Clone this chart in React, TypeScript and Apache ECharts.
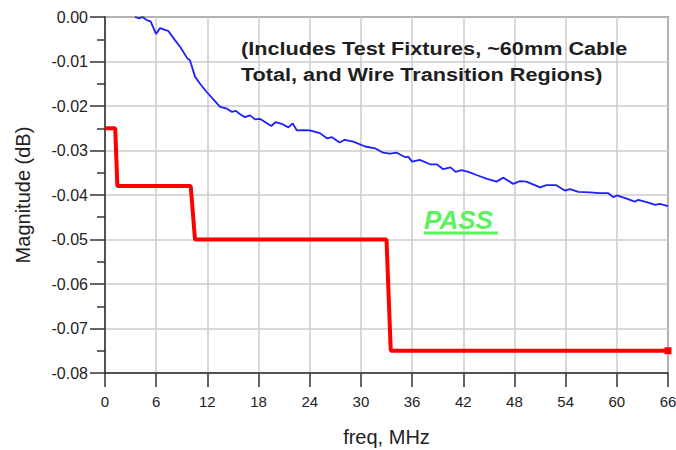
import React, { useEffect, useRef } from "react";
import * as echarts from "echarts";

// Measured insertion loss trace (freq in MHz, magnitude in dB)
const measFreq = [
  3.5, 4.0, 4.4, 4.9, 5.35, 5.98, 6.45, 7.03, 7.4, 8.2, 8.8, 9.65, 9.96, 10.55, 11.1, 11.9,
  12.7, 13.5, 14.3, 14.85, 15.35, 15.8, 16.4, 17.0, 17.6, 18.2, 19.5, 20.0, 20.7, 21.5, 22.0,
  22.5, 23.25, 24.0, 25.2, 26.05, 26.6, 27.5, 28.1, 29.1, 30.5, 31.65, 32.6, 33.4, 34.2, 35.2,
  35.55, 36.0, 36.9, 38.1, 38.9, 39.65, 40.5, 41.1, 41.8, 42.6, 43.55, 44.7, 45.9, 46.7, 47.85,
  48.65, 49.4, 51.0, 51.75, 52.9, 53.9, 54.5, 55.5, 56.85, 58.0, 59.0, 59.6, 60.0, 61.15, 62.1,
  62.5, 63.5, 64.5, 65.05, 66,
];
const measMag = [
  0, -0.0003, 0, -0.0007, -0.001, -0.0038, -0.0025, -0.0029, -0.0031, -0.0052, -0.0067, -0.0093,
  -0.0097, -0.0134, -0.0149, -0.0168, -0.0185, -0.0202, -0.0206, -0.0213, -0.0211, -0.0218,
  -0.0225, -0.0221, -0.023, -0.0229, -0.0245, -0.0236, -0.024, -0.0248, -0.0239, -0.0255,
  -0.0254, -0.0255, -0.0261, -0.0273, -0.027, -0.0282, -0.0276, -0.028, -0.0291, -0.0295,
  -0.0305, -0.0307, -0.0305, -0.0315, -0.0314, -0.0325, -0.0321, -0.0331, -0.0331, -0.0342,
  -0.0338, -0.0348, -0.0344, -0.0348, -0.0355, -0.0363, -0.037, -0.0361, -0.0375, -0.0369,
  -0.037, -0.0383, -0.0378, -0.0378, -0.039, -0.0387, -0.0393, -0.0394, -0.0396, -0.0396,
  -0.0405, -0.0401, -0.0408, -0.0415, -0.0411, -0.0416, -0.0422, -0.042, -0.0425,
];

// Stepped limit line
const limitFreq = [0, 1.2, 1.45, 10.05, 10.55, 33.0, 33.5, 66];
const limitMag = [-0.025, -0.025, -0.038, -0.038, -0.05, -0.05, -0.075, -0.075];

const noteLines = ["(Includes Test Fixtures, ~60mm Cable", "Total, and Wire Transition Regions)"];
const passLabel = "PASS";

const FONT = "'Liberation Sans', Arial, Helvetica, sans-serif";

export default function App() {
  const ref = useRef<HTMLDivElement>(null);

  useEffect(() => {
    if (!ref.current) return;
    const chart = echarts.init(ref.current, undefined, { renderer: "svg" });

    const limitData: any[] = limitFreq.map((f, i) => [f, limitMag[i]]);
    const last = limitData.length - 1;
    limitData[last] = { value: limitData[last], symbol: "rect", symbolSize: 7 };

    chart.setOption({
      animation: false,
      backgroundColor: "#ffffff",
      grid: {
        left: 105,
        right: 8,
        top: 17,
        bottom: 77,
        outerBoundsMode: "none",
        containLabel: false,
        show: true,
        borderColor: "#333333",
        borderWidth: 1.5,
        backgroundColor: "transparent",
      },
      xAxis: {
        type: "value",
        min: 0,
        max: 66,
        interval: 6,
        name: "freq, MHz",
        nameLocation: "middle",
        nameGap: 54,
        nameTextStyle: { fontFamily: FONT, fontSize: 20, color: "#222" },
        axisLine: { onZero: false, lineStyle: { color: "#333", width: 1.5 } },
        axisTick: { show: true, inside: false, length: 14, lineStyle: { color: "#333", width: 1.5 } },
        axisLabel: { margin: 21, fontFamily: FONT, fontSize: 15, color: "#222", hideOverlap: false },
        splitLine: { show: true, lineStyle: { color: "#cccccc", width: 1.5 } },
      },
      yAxis: {
        type: "value",
        min: -0.08,
        max: 0,
        interval: 0.01,
        name: "Magnitude (dB)",
        nameLocation: "middle",
        nameRotate: 90,
        nameGap: 72,
        nameTextStyle: { fontFamily: FONT, fontSize: 20, color: "#222" },
        axisLine: { onZero: false, lineStyle: { color: "#333", width: 1.5 } },
        axisTick: { show: true, inside: false, length: 15, lineStyle: { color: "#333", width: 1.5 } },
        minorTick: { show: true, splitNumber: 2, length: 8, lineStyle: { color: "#333", width: 1.5 } },
        axisLabel: {
          margin: 17,
          fontFamily: FONT,
          fontSize: 16,
          color: "#222",
          formatter: (v: number) => (Math.abs(v) < 1e-9 ? "0.00" : v.toFixed(2)),
        },
        splitLine: { show: true, lineStyle: { color: "#cccccc", width: 1.5 } },
      },
      series: [
        {
          type: "line",
          data: measFreq.map((f, i) => [f, measMag[i]]),
          symbol: "none",
          lineStyle: { color: "#1f1fff", width: 1.8 },
          clip: true,
          z: 3,
        },
        {
          type: "line",
          data: limitData,
          symbol: "none",
          showSymbol: true,
          itemStyle: { color: "#ff0000" },
          lineStyle: { color: "#ff0000", width: 4 },
          clip: false,
          z: 4,
        },
      ],
      graphic: [
        {
          type: "text",
          x: 241,
          y: 48.5,
          scaleX: 1.14,
          style: {
            text: noteLines[0],
            font: `bold 19px ${FONT}`,
            fill: "#1e1e1e",
            verticalAlign: "middle",
            align: "left",
          },
          z: 10,
        },
        {
          type: "text",
          x: 241,
          y: 74.5,
          scaleX: 1.14,
          style: {
            text: noteLines[1],
            font: `bold 19px ${FONT}`,
            fill: "#1e1e1e",
            verticalAlign: "middle",
            align: "left",
          },
          z: 10,
        },
        {
          type: "text",
          x: 424,
          y: 219.5,
          style: {
            text: passLabel,
            font: `italic bold 26px ${FONT}`,
            fill: "#5cf25c",
            verticalAlign: "middle",
            align: "left",
          },
          z: 10,
        },
        {
          type: "rect",
          shape: { x: 424, y: 231.5, width: 74, height: 3 },
          style: { fill: "#5cf25c" },
          z: 10,
        },
      ],
    });

    return () => chart.dispose();
  }, []);

  return (
    <div
      ref={ref}
      style={{ position: "fixed", left: 0, top: 0, width: 676, height: 450, background: "#fff" }}
    />
  );
}
